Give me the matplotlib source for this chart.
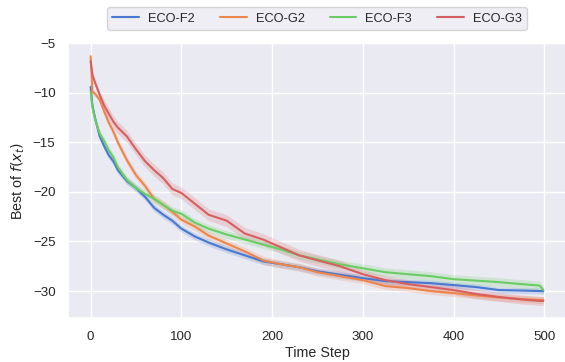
import numpy as np
import matplotlib
matplotlib.use("Agg")
import matplotlib.pyplot as plt
import seaborn as sns

sns.set_theme(style="darkgrid")
plt.rcParams['font.family'] = ['Liberation Sans', 'DejaVu Sans']

t = [0, 2, 5, 10, 15, 20, 25, 30, 40, 50, 60, 70, 80, 90, 100, 115, 130, 150, 170, 190,
     210, 230, 250, 275, 300, 325, 350, 375, 400, 425, 450, 475, 495, 499]

eco_f2 = [-9.4, -11.3, -12.6, -14.4, -15.4, -16.3, -16.9, -17.8, -18.9, -19.6, -20.5, -21.6,
          -22.3, -22.9, -23.7, -24.5, -25.1, -25.8, -26.4, -27.0, -27.3, -27.6, -28.0, -28.35,
          -28.7, -29.0, -29.1, -29.2, -29.4, -29.6, -29.9, -29.95, -30.0, -30.0]
eco_g2 = [-6.3, -9.9, -10.1, -10.7, -11.9, -13.0, -13.9, -15.0, -16.8, -18.3, -19.4, -20.7,
          -21.3, -22.0, -22.8, -23.5, -24.4, -25.2, -26.0, -26.9, -27.3, -27.6, -28.1, -28.5,
          -28.9, -29.5, -29.7, -30.0, -30.2, -30.45, -30.65, -30.8, -30.9, -30.9]
eco_f3 = [-9.9, -11.5, -12.7, -14.1, -14.9, -15.8, -16.5, -17.5, -18.8, -19.6, -20.2, -20.7,
          -21.3, -21.9, -22.2, -23.1, -23.7, -24.3, -24.8, -25.3, -25.8, -26.4, -26.8, -27.3,
          -27.7, -28.1, -28.3, -28.5, -28.8, -28.95, -29.1, -29.3, -29.45, -29.9]
eco_g3 = [-6.8, -8.2, -9.0, -10.2, -11.3, -12.1, -12.9, -13.5, -14.4, -15.7, -16.9, -17.8,
          -18.6, -19.7, -20.1, -21.2, -22.3, -22.9, -24.2, -24.8, -25.6, -26.4, -26.9, -27.5,
          -28.3, -28.9, -29.3, -29.6, -29.9, -30.3, -30.6, -30.85, -31.0, -31.0]

# half-widths of the shaded bands
band_f2 = [0.3] * 4 + [0.35] * 20 + [0.3] * 10
band_g2 = [0.3] * 4 + [0.4] * 20 + [0.35] * 10
band_f3 = [0.3] * 4 + [0.4] * 20 + [0.45] * 10
band_g3 = [0.4] * 4 + [0.6] * 20 + [0.45] * 10

labels = ["ECO-F2", "ECO-G2", "ECO-F3", "ECO-G3"]
series = [eco_f2, eco_g2, eco_f3, eco_g3]
bands = [band_f2, band_g2, band_f3, band_g3]
colors = ["#4878d0", "#ee854a", "#6acc64", "#d65f5f"]

fig = plt.figure(figsize=(5.65, 3.62), dpi=100)
ax = fig.add_axes([68 / 565, 43.7 / 362, 498 / 565, 275 / 362])

x = np.array(t)
for lab, y, b, c in zip(labels, series, bands, colors):
    y = np.array(y)
    b = np.array(b)
    ax.fill_between(x, y - b, y + b, color=c, alpha=0.2, linewidth=0)
    ax.plot(x, y, color=c, lw=1.5, label=lab)

ax.set_xlim(-24.95, 523.95)
ax.set_ylim(-32.75, -5.62)
ax.set_xticks([0, 100, 200, 300, 400, 500])
ax.set_yticks([-5, -10, -15, -20, -25, -30])
ax.tick_params(labelsize=9.6, pad=3)
ax.set_xlabel("Time Step", fontsize=10.3, labelpad=2)
ax.set_ylabel("Best of $f(x_t)$", fontsize=10.3, labelpad=4)

ax.legend(loc="center", bbox_to_anchor=(0.5, 1.09), ncol=4, fontsize=9.2,
          frameon=True, columnspacing=1.95, handlelength=2.1, handletextpad=0.7)

fig.savefig("out.png", dpi=100)
